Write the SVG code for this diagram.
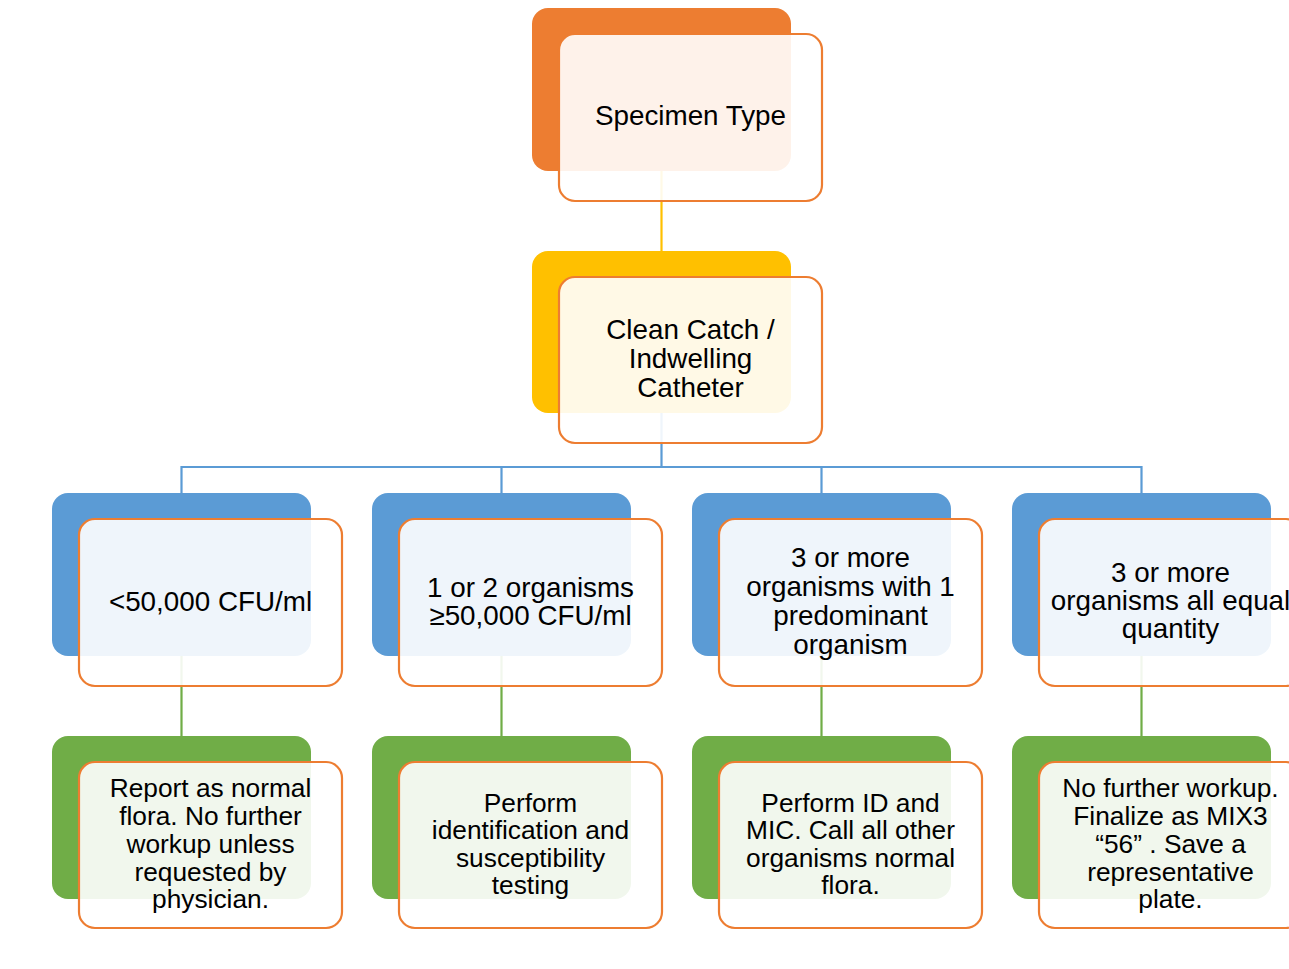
<svg xmlns="http://www.w3.org/2000/svg" width="1289" height="969" viewBox="0 0 1289 969">
<style>
.back{stroke:none}
.front{fill:#ffffff;fill-opacity:0.9;stroke:#ED7D31;stroke-width:2.2}
.t{font-family:"Liberation Sans",Arial,sans-serif;font-size:27.8px;fill:#000;text-anchor:middle}
.s{font-size:26.3px}
.c{fill:none;stroke-width:2.2}
</style>
<rect width="1289" height="969" fill="#fff"/>
<g id="connectors">
<line class="c" x1="661.5" y1="171" x2="661.5" y2="251" stroke="#FFC000"/>
<path class="c" d="M661.5 413 V467 M181.5 493 V467 H1141.5 V493 M501.5 467 V493 M821.5 467 V493" stroke="#5B9BD5"/>
<path class="c" d="M181.5 656 V736 M501.5 656 V736 M821.5 656 V736 M1141.5 656 V736" stroke="#70AD47"/>
</g>
<g id="specimen">
<rect class="back" x="532" y="8" width="259" height="163" rx="16" fill="#ED7D31"/>
<rect class="front" x="559" y="34" width="263" height="167" rx="16"/>
<text class="t" x="690.5" y="125">Specimen Type</text>
</g>
<g id="cleancatch">
<rect class="back" x="532" y="251" width="259" height="162" rx="16" fill="#FFC000"/>
<rect class="front" x="559" y="277" width="263" height="166" rx="16"/>
<text class="t" x="690.5" y="339">Clean Catch /</text>
<text class="t" x="690.5" y="368">Indwelling</text>
<text class="t" x="690.5" y="397">Catheter</text>
</g>
<g id="lt50k">
<rect class="back" x="52" y="493" width="259" height="163" rx="16" fill="#5B9BD5"/>
<rect class="front" x="79" y="519" width="263" height="167" rx="16"/>
<text class="t" x="210.5" y="611">&lt;50,000 CFU/ml</text>
</g>
<g id="one2org">
<rect class="back" x="372" y="493" width="259" height="163" rx="16" fill="#5B9BD5"/>
<rect class="front" x="399" y="519" width="263" height="167" rx="16"/>
<text class="t" x="530.5" y="597">1 or 2 organisms</text>
<text class="t" x="530.5" y="625">≥50,000 CFU/ml</text>
</g>
<g id="threepred">
<rect class="back" x="692" y="493" width="259" height="163" rx="16" fill="#5B9BD5"/>
<rect class="front" x="719" y="519" width="263" height="167" rx="16"/>
<text class="t" x="850.5" y="567">3 or more</text>
<text class="t" x="850.5" y="596">organisms with 1</text>
<text class="t" x="850.5" y="625">predominant</text>
<text class="t" x="850.5" y="654">organism</text>
</g>
<g id="threeequal">
<rect class="back" x="1012" y="493" width="259" height="163" rx="16" fill="#5B9BD5"/>
<rect class="front" x="1039" y="519" width="263" height="167" rx="16"/>
<text class="t" x="1170.5" y="582">3 or more</text>
<text class="t" x="1170.5" y="610">organisms all equal</text>
<text class="t" x="1170.5" y="638">quantity</text>
</g>
<g id="report">
<rect class="back" x="52" y="736" width="259" height="163" rx="16" fill="#70AD47"/>
<rect class="front" x="79" y="762" width="263" height="166" rx="16"/>
<text class="t s" x="210.5" y="797">Report as normal</text>
<text class="t s" x="210.5" y="825">flora. No further</text>
<text class="t s" x="210.5" y="853">workup unless</text>
<text class="t s" x="210.5" y="881">requested by</text>
<text class="t s" x="210.5" y="908">physician.</text>
</g>
<g id="performid">
<rect class="back" x="372" y="736" width="259" height="163" rx="16" fill="#70AD47"/>
<rect class="front" x="399" y="762" width="263" height="166" rx="16"/>
<text class="t s" x="530.5" y="812">Perform</text>
<text class="t s" x="530.5" y="839">identification and</text>
<text class="t s" x="530.5" y="867">susceptibility</text>
<text class="t s" x="530.5" y="894">testing</text>
</g>
<g id="performmic">
<rect class="back" x="692" y="736" width="259" height="163" rx="16" fill="#70AD47"/>
<rect class="front" x="719" y="762" width="263" height="166" rx="16"/>
<text class="t s" x="850.5" y="812">Perform ID and</text>
<text class="t s" x="850.5" y="839">MIC. Call all other</text>
<text class="t s" x="850.5" y="867">organisms normal</text>
<text class="t s" x="850.5" y="894">flora.</text>
</g>
<g id="nofurther">
<rect class="back" x="1012" y="736" width="259" height="163" rx="16" fill="#70AD47"/>
<rect class="front" x="1039" y="762" width="263" height="166" rx="16"/>
<text class="t s" x="1170.5" y="797">No further workup.</text>
<text class="t s" x="1170.5" y="825">Finalize as MIX3</text>
<text class="t s" x="1170.5" y="853">“56” . Save a</text>
<text class="t s" x="1170.5" y="881">representative</text>
<text class="t s" x="1170.5" y="908">plate.</text>
</g>
</svg>
